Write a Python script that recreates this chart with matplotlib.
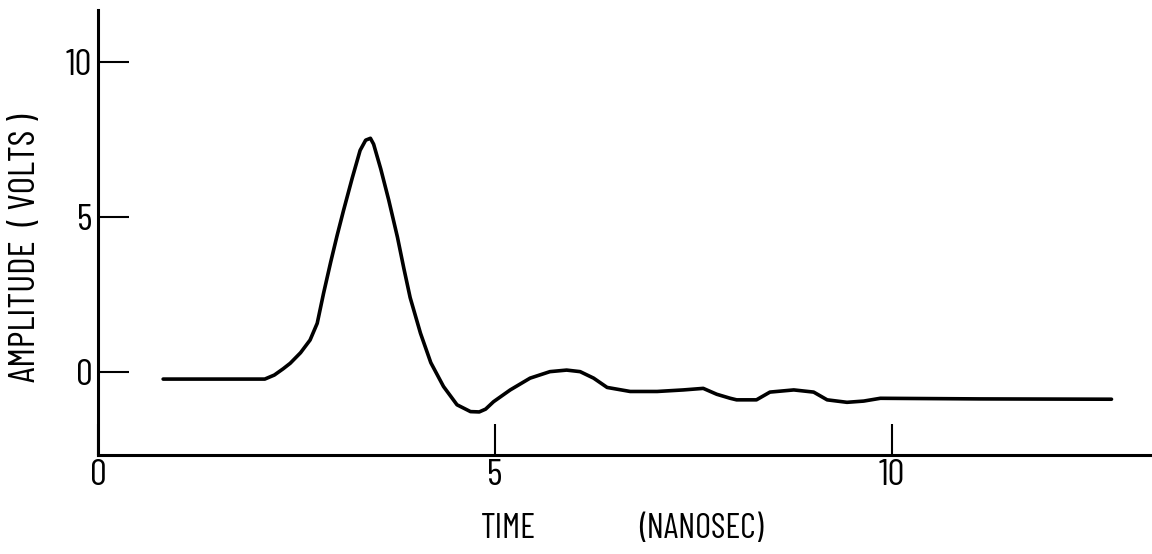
import matplotlib
matplotlib.use("Agg")
import matplotlib.pyplot as plt
from matplotlib import font_manager

# ---- data ----
time_ns = [0.82, 2.10, 2.22, 2.33, 2.42, 2.55, 2.67, 2.76, 2.84, 2.93, 3.01,
           3.09, 3.20, 3.30, 3.37, 3.43, 3.47, 3.56, 3.66, 3.77, 3.85, 3.93,
           4.06, 4.19, 4.35, 4.52, 4.69, 4.80, 4.88, 4.98, 5.19, 5.44, 5.69,
           5.90, 6.07, 6.24, 6.41, 6.70, 7.04, 7.37, 7.62, 7.79, 7.96, 8.04,
           8.29, 8.46, 8.76, 9.01, 9.18, 9.43, 9.64, 9.85, 11.11, 12.76]
amplitude_v = [-0.23, -0.23, -0.10, 0.10, 0.28, 0.62, 1.03, 1.57, 2.54, 3.55, 4.40,
               5.20, 6.25, 7.15, 7.48, 7.54, 7.35, 6.55, 5.55, 4.35, 3.35, 2.40,
               1.25, 0.30, -0.47, -1.06, -1.28, -1.29, -1.20, -0.96, -0.58, -0.20, 0.01,
               0.06, 0.01, -0.20, -0.50, -0.63, -0.63, -0.58, -0.53, -0.72, -0.85, -0.90,
               -0.90, -0.65, -0.58, -0.65, -0.90, -0.98, -0.94, -0.85, -0.87, -0.88]
x_ticks = [0, 5, 10]
x_tick_labels = ["0", "5", "10"]
y_ticks = [0, 5, 10]
y_tick_labels = ["0", "5", "10"]
x_label_quantity = "TIME"
x_label_unit = "(NANOSEC)"
y_label = "AMPLITUDE  ( VOLTS )"

# ---- font choice: condensed sans ----
available = {f.name for f in font_manager.fontManager.ttflist}
family = "DejaVu Sans"
for cand in ["Barlow Condensed", "Roboto Condensed", "Archivo Narrow",
             "Asap Condensed", "Liberation Sans Narrow"]:
    if cand in available:
        family = cand
        break
fprops = dict(family=family, weight="normal")

fig = plt.figure(figsize=(11.52, 5.54), dpi=100)
ax = fig.add_axes([98 / 1152, 1 - 455 / 554, 1 - 98 / 1152, 445 / 554])

ax.plot(time_ns, amplitude_v, color="black", lw=2.6, solid_capstyle="round",
        solid_joinstyle="round")

ax.set_xlim(0, 13.27)
ax.set_ylim(-2.68, 11.68)

for side in ("top", "right"):
    ax.spines[side].set_visible(False)
for side in ("left", "bottom"):
    ax.spines[side].set_linewidth(2.2)
    ax.spines[side].set_color("black")

ax.set_xticks(x_ticks)
ax.set_xticklabels(x_tick_labels, **fprops, fontsize=27)
ax.set_yticks(y_ticks)
ax.set_yticklabels(y_tick_labels, **fprops, fontsize=27)
ax.tick_params(axis="both", direction="in", length=22, width=1.5, color="black")
ax.tick_params(axis="x", pad=3)
ax.tick_params(axis="y", pad=4)

fig.text(508 / 1152, 1 - 529 / 554, x_label_quantity, ha="center", va="center",
         fontsize=25, **fprops)
fig.text(701 / 1152, 1 - 529 / 554, x_label_unit, ha="center", va="center",
         fontsize=25, **fprops)
fig.text(26 / 1152, 1 - 248 / 554, y_label, ha="center", va="center",
         rotation=90, fontsize=27, **fprops)

fig.savefig("out.png", dpi=100, facecolor="white")
